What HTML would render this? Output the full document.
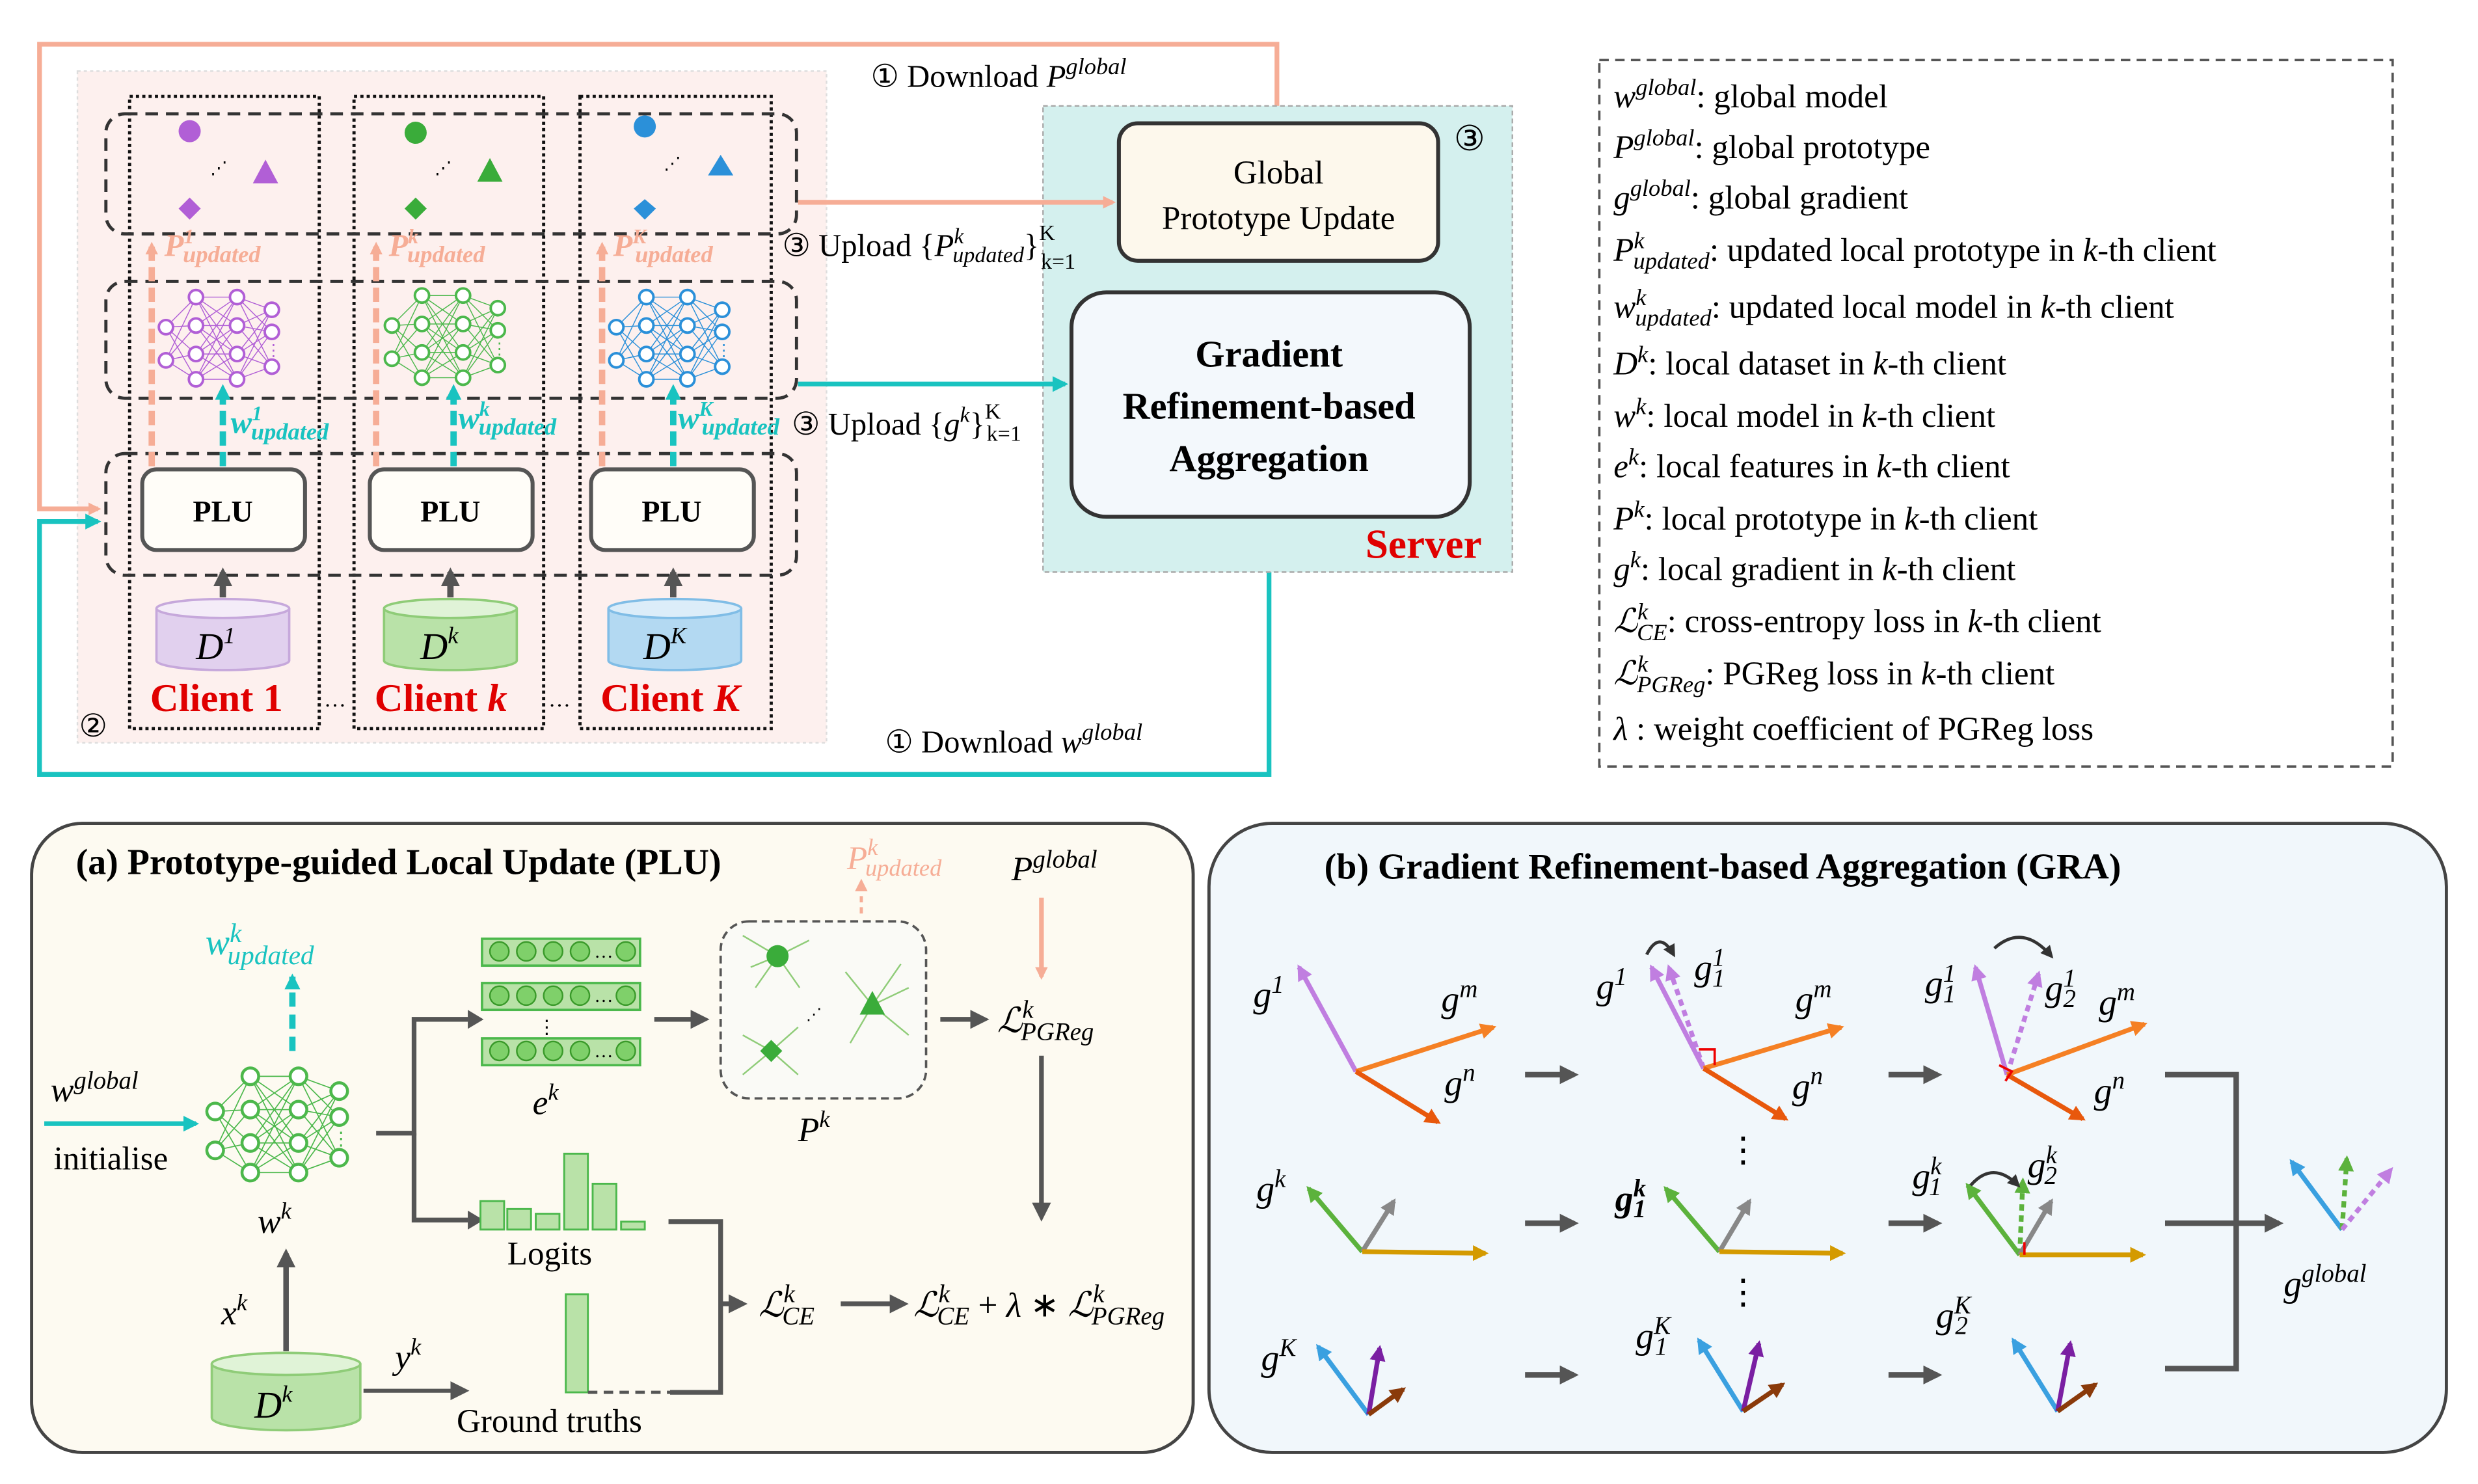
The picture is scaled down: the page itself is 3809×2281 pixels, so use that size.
<!DOCTYPE html>
<html><head><meta charset="utf-8"><style>
html,body{margin:0;padding:0;background:#fff}
svg{display:block}
text{font-family:"Liberation Serif",serif}
</style></head><body>
<svg width="3809" height="2281" viewBox="0 0 1568 939" xmlns="http://www.w3.org/2000/svg">
<defs>
<marker id="ms" markerWidth="8" markerHeight="8" refX="6" refY="4" orient="auto" markerUnits="userSpaceOnUse"><path d="M0,0L8,4L0,8z" fill="#f6ad96"/></marker>
<marker id="mt" markerWidth="10" markerHeight="10" refX="8" refY="5" orient="auto" markerUnits="userSpaceOnUse"><path d="M0,0L10,5L0,10z" fill="#19c3c0"/></marker>
<marker id="mg" markerWidth="12" markerHeight="12" refX="9" refY="6" orient="auto" markerUnits="userSpaceOnUse"><path d="M0,0L12,6L0,12z" fill="#555"/></marker>
<marker id="mk" markerWidth="8" markerHeight="8" refX="6" refY="4" orient="auto" markerUnits="userSpaceOnUse"><path d="M0,0L8,4L0,8z" fill="#333"/></marker>
<marker id="m1" markerWidth="10" markerHeight="10" refX="8" refY="5" orient="auto" markerUnits="userSpaceOnUse"><path d="M0,0L10,5L0,10z" fill="#c07ee0"/></marker>
<marker id="m2" markerWidth="10" markerHeight="10" refX="8" refY="5" orient="auto" markerUnits="userSpaceOnUse"><path d="M0,0L10,5L0,10z" fill="#f58024"/></marker>
<marker id="m3" markerWidth="10" markerHeight="10" refX="8" refY="5" orient="auto" markerUnits="userSpaceOnUse"><path d="M0,0L10,5L0,10z" fill="#e8580c"/></marker>
<marker id="m4" markerWidth="10" markerHeight="10" refX="8" refY="5" orient="auto" markerUnits="userSpaceOnUse"><path d="M0,0L10,5L0,10z" fill="#5cb23c"/></marker>
<marker id="m5" markerWidth="10" markerHeight="10" refX="8" refY="5" orient="auto" markerUnits="userSpaceOnUse"><path d="M0,0L10,5L0,10z" fill="#888"/></marker>
<marker id="m6" markerWidth="10" markerHeight="10" refX="8" refY="5" orient="auto" markerUnits="userSpaceOnUse"><path d="M0,0L10,5L0,10z" fill="#d49a00"/></marker>
<marker id="m7" markerWidth="10" markerHeight="10" refX="8" refY="5" orient="auto" markerUnits="userSpaceOnUse"><path d="M0,0L10,5L0,10z" fill="#3aa0e0"/></marker>
<marker id="m8" markerWidth="10" markerHeight="10" refX="8" refY="5" orient="auto" markerUnits="userSpaceOnUse"><path d="M0,0L10,5L0,10z" fill="#7a1fa2"/></marker>
<marker id="m9" markerWidth="10" markerHeight="10" refX="8" refY="5" orient="auto" markerUnits="userSpaceOnUse"><path d="M0,0L10,5L0,10z" fill="#8a3a0a"/></marker>
<symbol id="net" viewBox="0 0 90 70" overflow="visible">
<g stroke="currentColor" stroke-width="0.6" fill="none">
<path d="M5,25L24,6M5,25L24,24M5,25L24,42M5,25L24,58M5,46L24,6M5,46L24,24M5,46L24,42M5,46L24,58M24,6L50,6M24,6L50,24M24,6L50,42M24,6L50,58M24,24L50,6M24,24L50,24M24,24L50,42M24,24L50,58M24,42L50,6M24,42L50,24M24,42L50,42M24,42L50,58M24,58L50,6M24,58L50,24M24,58L50,42M24,58L50,58M50,6L72,14M50,6L72,28M50,6L72,50M50,24L72,14M50,24L72,28M50,24L72,50M50,42L72,14M50,42L72,28M50,42L72,50M50,58L72,14M50,58L72,28M50,58L72,50"/>
</g>
<g stroke="currentColor" stroke-width="1.6" fill="#fff">
<circle cx="5" cy="25" r="4.5"/><circle cx="5" cy="46" r="4.5"/>
<circle cx="24" cy="6" r="4.5"/><circle cx="24" cy="24" r="4.5"/><circle cx="24" cy="42" r="4.5"/><circle cx="24" cy="58" r="4.5"/>
<circle cx="50" cy="6" r="4.5"/><circle cx="50" cy="24" r="4.5"/><circle cx="50" cy="42" r="4.5"/><circle cx="50" cy="58" r="4.5"/>
<circle cx="72" cy="14" r="4.5"/><circle cx="72" cy="28" r="4.5"/><circle cx="72" cy="50" r="4.5"/>
</g>
<text x="68" y="43" font-size="10" fill="currentColor">⋮</text>
</symbol>
</defs>

<rect x="49" y="45" width="474" height="425" fill="#fdf0ee" stroke="#ddd" stroke-dasharray="2,2"/>
<polyline points="808,75 808,28 25,28 25,322 62,322" fill="none" stroke="#f6ad96" stroke-width="3" marker-end="url(#ms)"/>
<polyline points="803,328 803,490 25,490 25,330 62,330" fill="none" stroke="#19c3c0" stroke-width="3" marker-end="url(#mt)"/>
<g fill="none" stroke="#111" stroke-width="2" stroke-dasharray="2,2">
<rect x="82" y="61" width="120" height="400"/>
<rect x="224" y="61" width="120" height="400"/>
<rect x="367" y="61" width="121" height="400"/>
</g>
<g fill="none" stroke="#333" stroke-width="2" stroke-dasharray="8,5">
<rect x="67" y="72" width="437" height="76" rx="12"/>
<rect x="67" y="178" width="437" height="74" rx="12"/>
<rect x="67" y="287" width="437" height="77" rx="12"/>
</g>
<g><circle cx="120" cy="83" r="7" fill="#b15fd6"/><path d="M168,101L160,116L176,116z" fill="#b15fd6"/><path d="M120,125L127,132L120,139L113,132z" fill="#b15fd6"/><text x="133" y="110" font-size="11">⋰</text></g>
<g><circle cx="263" cy="84" r="7" fill="#3aac3a"/><path d="M310,100L302,115L318,115z" fill="#3aac3a"/><path d="M263,125L270,132L263,139L256,132z" fill="#3aac3a"/><text x="275" y="110" font-size="11">⋰</text></g>
<g><circle cx="408" cy="80" r="7" fill="#2b90d9"/><path d="M456,98L448,111L464,111z" fill="#2b90d9"/><path d="M408,126L415,132L408,139L401,132z" fill="#2b90d9"/><text x="420" y="107" font-size="11">⋰</text></g>
<use href="#net" x="100" y="182" width="90" height="70" color="#b15fd6"/>
<use href="#net" x="243" y="181" width="90" height="70" color="#4cb84c"/>
<use href="#net" x="385" y="182" width="90" height="70" color="#2b90d9"/>
<g stroke="#f6ad96" stroke-width="4" stroke-dasharray="9,4" fill="none">
<line x1="96" y1="295" x2="96" y2="155" marker-end="url(#ms)"/>
<line x1="238" y1="295" x2="238" y2="155" marker-end="url(#ms)"/>
<line x1="381" y1="295" x2="381" y2="155" marker-end="url(#ms)"/>
</g>
<g stroke="#19c3c0" stroke-width="4" stroke-dasharray="9,4" fill="none">
<line x1="141" y1="295" x2="141" y2="245" marker-end="url(#mt)"/>
<line x1="287" y1="295" x2="287" y2="245" marker-end="url(#mt)"/>
<line x1="426" y1="295" x2="426" y2="245" marker-end="url(#mt)"/>
</g>
<g font-style="italic" font-weight="bold" fill="#f6ad96">
<text x="104" y="162" font-size="20">P<tspan font-size="13" dy="-8">1</tspan><tspan font-size="15" dx="-7" dy="12">updated</tspan></text>
<text x="246" y="162" font-size="20">P<tspan font-size="13" dy="-8">k</tspan><tspan font-size="15" dx="-7" dy="12">updated</tspan></text>
<text x="388" y="162" font-size="20">P<tspan font-size="13" dy="-8">K</tspan><tspan font-size="15" dx="-7" dy="12">updated</tspan></text>
</g>
<g font-style="italic" font-weight="bold" fill="#19c3c0">
<text x="146" y="274" font-size="20">w<tspan font-size="13" dy="-8">1</tspan><tspan font-size="15" dx="-7" dy="12">updated</tspan></text>
<text x="290" y="271" font-size="20">w<tspan font-size="13" dy="-8">k</tspan><tspan font-size="15" dx="-7" dy="12">updated</tspan></text>
<text x="429" y="271" font-size="20">w<tspan font-size="13" dy="-8">K</tspan><tspan font-size="15" dx="-7" dy="12">updated</tspan></text>
</g>
<g fill="#fffdf8" stroke="#555" stroke-width="2.5">
<rect x="90" y="297" width="103" height="51" rx="9"/>
<rect x="234" y="297" width="103" height="51" rx="9"/>
<rect x="374" y="297" width="103" height="51" rx="9"/>
</g>
<g font-weight="bold" font-size="19" text-anchor="middle"><text x="141" y="330">PLU</text><text x="285" y="330">PLU</text><text x="425" y="330">PLU</text></g>
<g stroke="#555" stroke-width="4"><line x1="141" y1="378" x2="141" y2="362" marker-end="url(#mg)"/><line x1="285" y1="378" x2="285" y2="362" marker-end="url(#mg)"/><line x1="426" y1="378" x2="426" y2="362" marker-end="url(#mg)"/></g>
<g stroke-width="1.5">
<path d="M99,385V418A42,6 0 0 0 183,418V385" fill="#e1d0ee" stroke="#c6a8db"/><ellipse cx="141" cy="385" rx="42" ry="6" fill="#f4ecf8" stroke="#c6a8db"/>
<path d="M243,385V418A42,6 0 0 0 327,418V385" fill="#b9e2a8" stroke="#8fcc78"/><ellipse cx="285" cy="385" rx="42" ry="6" fill="#e0f3d7" stroke="#8fcc78"/>
<path d="M385,385V418A42,6 0 0 0 469,418V385" fill="#b3d9f2" stroke="#80bde6"/><ellipse cx="427" cy="385" rx="42" ry="6" fill="#dcedf9" stroke="#80bde6"/>
</g>
<g font-size="24" font-style="italic"><text x="124" y="417">D<tspan font-size="15" dy="-10">1</tspan></text><text x="266" y="417">D<tspan font-size="15" dy="-10">k</tspan></text><text x="407" y="417">D<tspan font-size="15" dy="-10">K</tspan></text></g>
<g fill="#e00000" font-weight="bold" font-size="25">
<text x="95" y="450">Client 1</text><text x="237" y="450">Client <tspan font-style="italic">k</tspan></text><text x="380" y="450">Client <tspan font-style="italic">K</tspan></text>
</g>
<text x="205" y="447" font-size="14">…</text><text x="347" y="447" font-size="14">…</text>
<text x="50" y="466" font-size="20">②</text>

<rect x="660" y="67" width="297" height="295" fill="#d4f0ee" stroke="#aaa" stroke-dasharray="3,2"/>
<rect x="708" y="78" width="202" height="87" rx="12" fill="#fdf8ec" stroke="#333" stroke-width="2.5"/>
<text x="809" y="116" font-size="21" text-anchor="middle">Global</text>
<text x="809" y="145" font-size="21" text-anchor="middle">Prototype Update</text>
<text x="920" y="95" font-size="22">③</text>
<rect x="678" y="185" width="252" height="142" rx="22" fill="#f3f8fc" stroke="#333" stroke-width="2.5"/>
<g font-weight="bold" font-size="24" text-anchor="middle"><text x="803" y="232">Gradient</text><text x="803" y="265">Refinement-based</text><text x="803" y="298">Aggregation</text></g>
<text x="864" y="353" font-size="26" font-weight="bold" fill="#e00000">Server</text>
<line x1="505" y1="128" x2="704" y2="128" stroke="#f6ad96" stroke-width="3" marker-end="url(#ms)"/>
<line x1="505" y1="243" x2="674" y2="243" stroke="#19c3c0" stroke-width="3" marker-end="url(#mt)"/>
<g font-size="20">
<text x="551" y="55">① Download <tspan font-style="italic">P</tspan><tspan font-style="italic" font-size="15" dy="-8">global</tspan></text>
<text x="495" y="162">③ Upload {<tspan font-style="italic">P</tspan><tspan font-style="italic" font-size="14" dy="-8">k</tspan><tspan font-style="italic" font-size="14" dx="-7" dy="12">updated</tspan><tspan dy="-4">}</tspan><tspan font-size="14" dy="-10">K</tspan><tspan font-size="14" dx="-9" dy="18">k=1</tspan></text>
<text x="501" y="275">③ Upload {<tspan font-style="italic">g</tspan><tspan font-style="italic" font-size="14" dy="-8">k</tspan><tspan dy="8">}</tspan><tspan font-size="14" dy="-10">K</tspan><tspan font-size="14" dx="-9" dy="14">k=1</tspan></text>
<text x="560" y="476">① Download <tspan font-style="italic">w</tspan><tspan font-style="italic" font-size="15" dy="-8">global</tspan></text>
</g>

<rect x="1012" y="38" width="502" height="447" fill="none" stroke="#555" stroke-width="1.5" stroke-dasharray="6,4"/>
<g font-size="21">
<text x="1021" y="68"><tspan font-style="italic">w</tspan><tspan font-style="italic" font-size="15" dy="-8">global</tspan><tspan dy="8">: global model</tspan></text>
<text x="1021" y="100"><tspan font-style="italic">P</tspan><tspan font-style="italic" font-size="15" dy="-8">global</tspan><tspan dy="8">: global prototype</tspan></text>
<text x="1021" y="132"><tspan font-style="italic">g</tspan><tspan font-style="italic" font-size="15" dy="-8">global</tspan><tspan dy="8">: global gradient</tspan></text>
<text x="1021" y="165"><tspan font-style="italic">P</tspan><tspan font-style="italic" font-size="15" dy="-8">k</tspan><tspan font-style="italic" font-size="15" dx="-7" dy="13">updated</tspan><tspan dy="-5">: updated local prototype in </tspan><tspan font-style="italic">k</tspan>-th client</text>
<text x="1021" y="201"><tspan font-style="italic">w</tspan><tspan font-style="italic" font-size="15" dy="-8">k</tspan><tspan font-style="italic" font-size="15" dx="-7" dy="13">updated</tspan><tspan dy="-5">: updated local model in </tspan><tspan font-style="italic">k</tspan>-th client</text>
<text x="1021" y="237"><tspan font-style="italic">D</tspan><tspan font-style="italic" font-size="15" dy="-8">k</tspan><tspan dy="8">: local dataset in </tspan><tspan font-style="italic">k</tspan>-th client</text>
<text x="1021" y="270"><tspan font-style="italic">w</tspan><tspan font-style="italic" font-size="15" dy="-8">k</tspan><tspan dy="8">: local model in </tspan><tspan font-style="italic">k</tspan>-th client</text>
<text x="1021" y="302"><tspan font-style="italic">e</tspan><tspan font-style="italic" font-size="15" dy="-8">k</tspan><tspan dy="8">: local features in </tspan><tspan font-style="italic">k</tspan>-th client</text>
<text x="1021" y="335"><tspan font-style="italic">P</tspan><tspan font-style="italic" font-size="15" dy="-8">k</tspan><tspan dy="8">: local prototype in </tspan><tspan font-style="italic">k</tspan>-th client</text>
<text x="1021" y="367"><tspan font-style="italic">g</tspan><tspan font-style="italic" font-size="15" dy="-8">k</tspan><tspan dy="8">: local gradient in </tspan><tspan font-style="italic">k</tspan>-th client</text>
<text x="1021" y="400"><tspan font-style="italic">ℒ</tspan><tspan font-style="italic" font-size="15" dy="-8">k</tspan><tspan font-style="italic" font-size="15" dx="-7" dy="13">CE</tspan><tspan dy="-5">: cross-entropy loss in </tspan><tspan font-style="italic">k</tspan>-th client</text>
<text x="1021" y="433"><tspan font-style="italic">ℒ</tspan><tspan font-style="italic" font-size="15" dy="-8">k</tspan><tspan font-style="italic" font-size="15" dx="-7" dy="13">PGReg</tspan><tspan dy="-5">: PGReg loss in </tspan><tspan font-style="italic">k</tspan>-th client</text>
<text x="1021" y="468"><tspan font-style="italic">λ</tspan> : weight coefficient of PGReg loss</text>
</g>

<rect x="20" y="521" width="735" height="398" rx="32" fill="#fdfaf1" stroke="#444" stroke-width="2"/>
<text x="48" y="553" font-size="23" font-weight="bold">(a) Prototype-guided Local Update (PLU)</text>
<text x="536" y="550" font-size="21" font-style="italic" fill="#f6ad96">P<tspan font-size="15" dy="-9">k</tspan><tspan font-size="15" dx="-8" dy="13">updated</tspan></text>
<line x1="545" y1="578" x2="545" y2="558" stroke="#f6ad96" stroke-width="2" stroke-dasharray="4,3" marker-end="url(#ms)"/>
<text x="640" y="557" font-size="22" font-style="italic">P<tspan font-size="16" dy="-8">global</tspan></text>
<line x1="659" y1="568" x2="659" y2="618" stroke="#f6ad96" stroke-width="3" marker-end="url(#ms)"/>
<text x="130" y="604" font-size="23" font-style="italic" fill="#19c3c0">w<tspan font-size="17" dy="-8">k</tspan><tspan font-size="17" dx="-9" dy="14">updated</tspan></text>
<line x1="185" y1="665" x2="185" y2="618" stroke="#19c3c0" stroke-width="4" stroke-dasharray="9,5" marker-end="url(#mt)"/>
<text x="32" y="697" font-size="22" font-style="italic">w<tspan font-size="16" dy="-8">global</tspan></text>
<line x1="28" y1="711" x2="124" y2="711" stroke="#19c3c0" stroke-width="3" marker-end="url(#mt)"/>
<text x="34" y="740" font-size="21">initialise</text>
<use href="#net" x="128" y="674" width="110" height="82" color="#4cb84c"/>
<text x="163" y="780" font-size="22" font-style="italic">w<tspan font-size="15" dy="-9">k</tspan></text>
<line x1="181" y1="855" x2="181" y2="793" stroke="#555" stroke-width="3.5" marker-end="url(#mg)"/>
<text x="140" y="838" font-size="22" font-style="italic">x<tspan font-size="15" dy="-9">k</tspan></text>
<path d="M134,863V897A47,8 0 0 0 228,897V863" fill="#b9e2a8" stroke="#8fcc78" stroke-width="1.5"/><ellipse cx="181" cy="863" rx="47" ry="7" fill="#e0f3d7" stroke="#8fcc78" stroke-width="1.5"/>
<text x="161" y="897" font-size="24" font-style="italic">D<tspan font-size="15" dy="-10">k</tspan></text>
<line x1="230" y1="880" x2="294" y2="880" stroke="#555" stroke-width="2.5" marker-end="url(#mg)"/>
<text x="250" y="866" font-size="22" font-style="italic">y<tspan font-size="15" dy="-9">k</tspan></text>
<text x="289" y="906" font-size="21">Ground truths</text>
<g stroke="#555" stroke-width="3" fill="none">
<polyline points="238,717 262,717 262,645 296,645"/>
<polyline points="262,717 262,772 296,772"/>
</g>
<polygon points="296,639 306,645 296,651" fill="#555"/><polygon points="296,766 306,772 296,778" fill="#555"/>
<g fill="#b9e2a8" stroke="#4cb84c" stroke-width="1.5">
<rect x="305" y="594" width="100" height="17"/><rect x="305" y="622" width="100" height="17"/><rect x="305" y="657" width="100" height="17"/>
</g>
<g fill="#7fd06a" stroke="#3a9a2a">
<circle cx="316" cy="602" r="6"/><circle cx="333" cy="602" r="6"/><circle cx="350" cy="602" r="6"/><circle cx="367" cy="602" r="6"/><circle cx="396" cy="602" r="6"/>
<circle cx="316" cy="630" r="6"/><circle cx="333" cy="630" r="6"/><circle cx="350" cy="630" r="6"/><circle cx="367" cy="630" r="6"/><circle cx="396" cy="630" r="6"/>
<circle cx="316" cy="665" r="6"/><circle cx="333" cy="665" r="6"/><circle cx="350" cy="665" r="6"/><circle cx="367" cy="665" r="6"/><circle cx="396" cy="665" r="6"/>
</g>
<text x="376" y="606" font-size="12">…</text><text x="376" y="634" font-size="12">…</text><text x="376" y="669" font-size="12">…</text>
<text x="340" y="654" font-size="12">⋮</text>
<text x="337" y="705" font-size="22" font-style="italic">e<tspan font-size="15" dy="-9">k</tspan></text>
<line x1="414" y1="645" x2="446" y2="645" stroke="#555" stroke-width="3" marker-end="url(#mg)"/>
<rect x="456" y="583" width="130" height="112" rx="18" fill="#fafaf6" stroke="#555" stroke-width="1.5" stroke-dasharray="5,3"/>
<g stroke="#8fcc78" stroke-width="1">
<path d="M492,605L470,592M492,605L478,625M492,605L512,595M492,605L506,625M492,605L475,612M488,665L470,655M488,665L470,680M488,665L505,680M488,665L505,650M552,636L535,615M552,636L575,625M552,636L538,660M552,636L575,655M552,636L570,610"/>
</g>
<circle cx="492" cy="605" r="7" fill="#3aac3a"/><path d="M488,658L495,665L488,672L481,665z" fill="#3aac3a"/><path d="M552,627L544,642L560,642z" fill="#3aac3a"/>
<text x="510" y="645" font-size="10">⋰</text>
<text x="505" y="722" font-size="22" font-style="italic">P<tspan font-size="15" dy="-9">k</tspan></text>
<line x1="595" y1="645" x2="623" y2="645" stroke="#555" stroke-width="3" marker-end="url(#mg)"/>
<text x="631" y="653" font-size="22" font-style="italic">ℒ<tspan font-size="16" dy="-9">k</tspan><tspan font-size="16" dx="-8" dy="14">PGReg</tspan></text>
<line x1="659" y1="668" x2="659" y2="770" stroke="#555" stroke-width="3" marker-end="url(#mg)"/>
<g fill="#b9e2a8" stroke="#4cb84c" stroke-width="1.2">
<rect x="304" y="760" width="15" height="18"/><rect x="321" y="765" width="15" height="13"/><rect x="339" y="768" width="15" height="10"/><rect x="357" y="730" width="15" height="48"/><rect x="375" y="749" width="15" height="29"/><rect x="393" y="773" width="15" height="5"/>
<rect x="358" y="819" width="14" height="62"/>
</g>
<text x="321" y="800" font-size="21">Logits</text>
<line x1="372" y1="881" x2="424" y2="881" stroke="#555" stroke-width="2" stroke-dasharray="6,4"/>
<polyline points="423,773 456,773 456,881 424,881" fill="none" stroke="#555" stroke-width="3"/>
<line x1="456" y1="825" x2="470" y2="825" stroke="#555" stroke-width="3" marker-end="url(#mg)"/>
<text x="480" y="833" font-size="22" font-style="italic">ℒ<tspan font-size="16" dy="-9">k</tspan><tspan font-size="16" dx="-8" dy="14">CE</tspan></text>
<line x1="532" y1="825" x2="572" y2="825" stroke="#555" stroke-width="3" marker-end="url(#mg)"/>
<text x="578" y="833" font-size="22" font-style="italic">ℒ<tspan font-size="16" dy="-9">k</tspan><tspan font-size="16" dx="-8" dy="14">CE</tspan><tspan dy="-5" font-style="normal"> + </tspan>λ <tspan font-style="normal">∗</tspan> ℒ<tspan font-size="16" dy="-9">k</tspan><tspan font-size="16" dx="-8" dy="14">PGReg</tspan></text>

<rect x="765" y="521" width="783" height="398" rx="40" fill="#f1f7fb" stroke="#444" stroke-width="2"/>
<text x="838" y="556" font-size="23" font-weight="bold">(b) Gradient Refinement-based Aggregation (GRA)</text>
<g font-size="23" font-style="italic">
<text x="793" y="637">g<tspan font-size="16" dy="-9">1</tspan></text>
<text x="912" y="640">g<tspan font-size="16" dy="-9">m</tspan></text>
<text x="914" y="693">g<tspan font-size="16" dy="-9">n</tspan></text>
<text x="795" y="760">g<tspan font-size="16" dy="-9">k</tspan></text>
<text x="798" y="867">g<tspan font-size="16" dy="-9">K</tspan></text>
<text x="1010" y="632">g<tspan font-size="16" dy="-9">1</tspan></text>
<text x="1072" y="620">g<tspan font-size="16" dy="-9">1</tspan><tspan font-size="16" dx="-8" dy="13">1</tspan></text>
<text x="1136" y="640">g<tspan font-size="16" dy="-9">m</tspan></text>
<text x="1134" y="695">g<tspan font-size="16" dy="-9">n</tspan></text>
<text x="1022" y="766" font-weight="bold">g<tspan font-size="16" dy="-9">k</tspan><tspan font-size="16" dx="-8" dy="13">1</tspan></text>
<text x="1035" y="853">g<tspan font-size="16" dy="-9">K</tspan><tspan font-size="16" dx="-10" dy="13">1</tspan></text>
<text x="1218" y="630">g<tspan font-size="16" dy="-9">1</tspan><tspan font-size="16" dx="-8" dy="13">1</tspan></text>
<text x="1294" y="633">g<tspan font-size="16" dy="-9">1</tspan><tspan font-size="16" dx="-8" dy="13">2</tspan></text>
<text x="1328" y="642">g<tspan font-size="16" dy="-9">m</tspan></text>
<text x="1325" y="698">g<tspan font-size="16" dy="-9">n</tspan></text>
<text x="1210" y="752">g<tspan font-size="16" dy="-9">k</tspan><tspan font-size="16" dx="-8" dy="13">1</tspan></text>
<text x="1283" y="745">g<tspan font-size="16" dy="-9">k</tspan><tspan font-size="16" dx="-8" dy="13">2</tspan></text>
<text x="1225" y="840">g<tspan font-size="16" dy="-9">K</tspan><tspan font-size="16" dx="-10" dy="13">2</tspan></text>
<text x="1445" y="820">g<tspan font-size="16" dy="-9">global</tspan></text>
</g>
<text x="1092" y="735" font-size="22">⋮</text><text x="1092" y="825" font-size="22">⋮</text>
<g stroke-width="3" fill="none">
<line x1="858" y1="678" x2="822" y2="612" stroke="#c07ee0" marker-end="url(#m1)"/>
<line x1="858" y1="678" x2="945" y2="650" stroke="#f58024" marker-end="url(#m2)"/>
<line x1="858" y1="678" x2="910" y2="710" stroke="#e8580c" marker-end="url(#m3)"/>
<line x1="1078" y1="676" x2="1045" y2="612" stroke="#c07ee0" marker-end="url(#m1)"/>
<line x1="1078" y1="676" x2="1056" y2="612" stroke="#c07ee0" stroke-dasharray="4,3" marker-end="url(#m1)"/>
<line x1="1078" y1="676" x2="1165" y2="650" stroke="#f58024" marker-end="url(#m2)"/>
<line x1="1078" y1="676" x2="1130" y2="708" stroke="#e8580c" marker-end="url(#m3)"/>
<line x1="1270" y1="680" x2="1250" y2="612" stroke="#c07ee0" marker-end="url(#m1)"/>
<line x1="1270" y1="680" x2="1290" y2="616" stroke="#c07ee0" stroke-dasharray="4,3" marker-end="url(#m1)"/>
<line x1="1270" y1="680" x2="1357" y2="648" stroke="#f58024" marker-end="url(#m2)"/>
<line x1="1270" y1="680" x2="1318" y2="708" stroke="#e8580c" marker-end="url(#m3)"/>
<line x1="862" y1="792" x2="828" y2="752" stroke="#5cb23c" marker-end="url(#m4)"/>
<line x1="862" y1="792" x2="882" y2="760" stroke="#888" marker-end="url(#m5)"/>
<line x1="862" y1="792" x2="940" y2="793" stroke="#d49a00" marker-end="url(#m6)"/>
<line x1="1088" y1="792" x2="1054" y2="752" stroke="#5cb23c" marker-end="url(#m4)"/>
<line x1="1088" y1="792" x2="1107" y2="760" stroke="#888" marker-end="url(#m5)"/>
<line x1="1088" y1="792" x2="1166" y2="793" stroke="#d49a00" marker-end="url(#m6)"/>
<line x1="1278" y1="794" x2="1245" y2="750" stroke="#5cb23c" marker-end="url(#m4)"/>
<line x1="1278" y1="794" x2="1280" y2="747" stroke="#5cb23c" stroke-dasharray="4,3" marker-end="url(#m4)"/>
<line x1="1278" y1="794" x2="1298" y2="760" stroke="#888" marker-end="url(#m5)"/>
<line x1="1278" y1="794" x2="1356" y2="794" stroke="#d49a00" marker-end="url(#m6)"/>
<line x1="866" y1="895" x2="834" y2="852" stroke="#3aa0e0" marker-end="url(#m7)"/>
<line x1="866" y1="895" x2="873" y2="853" stroke="#7a1fa2" marker-end="url(#m8)"/>
<line x1="866" y1="895" x2="888" y2="879" stroke="#8a3a0a" marker-end="url(#m9)"/>
<line x1="1103" y1="893" x2="1075" y2="848" stroke="#3aa0e0" marker-end="url(#m7)"/>
<line x1="1103" y1="893" x2="1113" y2="850" stroke="#7a1fa2" marker-end="url(#m8)"/>
<line x1="1103" y1="893" x2="1128" y2="876" stroke="#8a3a0a" marker-end="url(#m9)"/>
<line x1="1302" y1="893" x2="1274" y2="848" stroke="#3aa0e0" marker-end="url(#m7)"/>
<line x1="1302" y1="893" x2="1310" y2="850" stroke="#7a1fa2" marker-end="url(#m8)"/>
<line x1="1302" y1="893" x2="1326" y2="876" stroke="#8a3a0a" marker-end="url(#m9)"/>
<line x1="1482" y1="778" x2="1450" y2="735" stroke="#3aa0e0" marker-end="url(#m7)"/>
<line x1="1482" y1="778" x2="1485" y2="733" stroke="#5cb23c" stroke-dasharray="4,3" marker-end="url(#m4)"/>
<line x1="1482" y1="778" x2="1513" y2="740" stroke="#c07ee0" stroke-dasharray="4,3" marker-end="url(#m1)"/>
</g>
<g stroke="#e00" stroke-width="1.5" fill="none"><path d="M1075,664h10v10"/><path d="M1265,674l8,4l-4,6"/><path d="M1281,786v8"/></g>
<path d="M1042,604q8,-16 17,0" stroke="#333" stroke-width="2" fill="none" marker-end="url(#mk)"/>
<path d="M1262,600q18,-16 36,5" stroke="#333" stroke-width="2" fill="none" marker-end="url(#mk)"/>
<path d="M1247,750q14,-16 30,0" stroke="#333" stroke-width="2" fill="none" marker-end="url(#mk)"/>
<g stroke="#555" stroke-width="3.5">
<line x1="965" y1="680" x2="996" y2="680" marker-end="url(#mg)"/>
<line x1="965" y1="774" x2="996" y2="774" marker-end="url(#mg)"/>
<line x1="965" y1="870" x2="996" y2="870" marker-end="url(#mg)"/>
<line x1="1195" y1="680" x2="1226" y2="680" marker-end="url(#mg)"/>
<line x1="1195" y1="774" x2="1226" y2="774" marker-end="url(#mg)"/>
<line x1="1195" y1="870" x2="1226" y2="870" marker-end="url(#mg)"/>
<line x1="1415" y1="774" x2="1442" y2="774" marker-end="url(#mg)"/>
</g>
<g stroke="#555" stroke-width="3.5" fill="none">
<polyline points="1370,680 1415,680 1415,866 1370,866"/>
<line x1="1370" y1="774" x2="1415" y2="774"/>
</g>
</svg>
</body></html>
